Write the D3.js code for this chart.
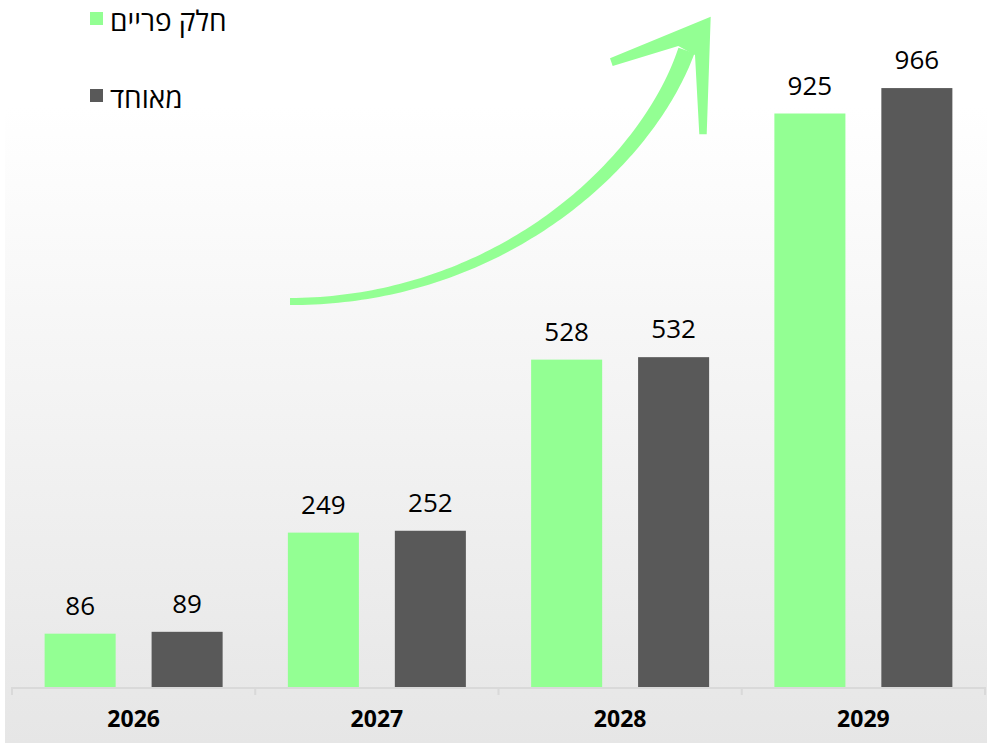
<!DOCTYPE html>
<html>
<head>
<meta charset="utf-8">
<script src="https://cdn.jsdelivr.net/npm/d3@7"></script>
<style>
  html, body { margin: 0; padding: 0; background: #ffffff; }
  svg { display: block; }
</style>
</head>
<body>
<svg id="chart" width="987" height="743"></svg>
<script>
// ---- data ----
const years = ["2026", "2027", "2028", "2029"];
const seriesNames = ["חלק פריים", "מאוחד"];
const primeValues = [86, 249, 528, 925];
const mergedValues = [89, 252, 532, 966];
const seriesColors = ["#93ff93", "#595959"];

const svg = d3.select("#chart");
const W = 987, H = 743;

// background gradient panel
const defs = svg.append("defs");
const grad = defs.append("linearGradient").attr("id", "bg").attr("x1", 0).attr("y1", 0).attr("x2", 0).attr("y2", 1);
grad.append("stop").attr("offset", "0%").attr("stop-color", "#ffffff");
grad.append("stop").attr("offset", "100%").attr("stop-color", "#e6e6e6");
svg.append("rect").attr("x", 5).attr("y", 107).attr("width", W - 5).attr("height", H - 107).attr("fill", "url(#bg)");

// scales
const x = d3.scaleBand().domain(years).range([12, 985]).paddingInner(0).paddingOuter(0);
const xs = d3.scaleBand().domain(seriesNames).range([0, x.bandwidth()]).paddingInner(0.336).paddingOuter(0.305);
const y = d3.scaleLinear().domain([0, 1000]).range([687, 67]);

const rows = years.map((yr, i) => ({ year: yr, vals: [primeValues[i], mergedValues[i]] }));

const groups = svg.append("g").selectAll("g").data(rows).join("g")
  .attr("transform", d => `translate(${x(d.year)},0)`);

groups.selectAll("rect").data(d => d.vals.map((v, j) => ({ name: seriesNames[j], v, j })))
  .join("rect")
  .attr("x", d => xs(d.name))
  .attr("y", d => y(d.v))
  .attr("width", xs.bandwidth())
  .attr("height", d => y(0) - y(d.v))
  .attr("fill", d => seriesColors[d.j]);

groups.selectAll("text.val").data(d => d.vals.map((v, j) => ({ name: seriesNames[j], v, j })))
  .join("text")
  .attr("class", "val")
  .attr("x", d => xs(d.name) + xs.bandwidth() / 2)
  .attr("y", d => y(d.v) - 19)
  .attr("text-anchor", "middle")
  .attr("font-family", "'Open Sans', 'Noto Sans', sans-serif")
  .attr("font-size", 26)
  .attr("fill", "#000")
  .text(d => d.v);

// x axis
const axis = d3.axisBottom(x).tickSize(0).tickPadding(0);
const ag = svg.append("g").attr("transform", `translate(0,${y(0)})`);
ag.append("line").attr("x1", 12).attr("x2", 985).attr("y1", 1).attr("y2", 1)
  .attr("stroke", "#d9d9d9").attr("stroke-width", 2);
const tickXs = years.map(yr => x(yr)).concat([x.range()[1]]);
ag.selectAll("line.tk").data(tickXs).join("line").attr("class", "tk")
  .attr("x1", d => d).attr("x2", d => d).attr("y1", 0).attr("y2", 8)
  .attr("stroke", "#d9d9d9").attr("stroke-width", 2);
const axG = ag.append("g").call(axis);
axG.select(".domain").remove();
axG.selectAll("text")
  .attr("y", 40)
  .attr("dy", 0)
  .attr("font-family", "'Open Sans', 'Noto Sans', sans-serif")
  .attr("font-size", 23)
  .attr("font-weight", "bold")
  .attr("fill", "#000");

// legend
const legend = svg.append("g");
seriesNames.forEach((name, i) => {
  const ly = [12, 89][i];
  legend.append("rect").attr("x", 90).attr("y", ly).attr("width", 13).attr("height", 13).attr("fill", seriesColors[i]);
  legend.append("text").attr("x", 110).attr("y", ly + 19)
    .attr("font-family", "'Open Sans', 'DejaVu Sans', sans-serif")
    .attr("font-size", 28).attr("fill", "#000")
    .text(name);
});

// decorative growth arrow (cubic bezier shaft with tapering width)
const P = [[290, 301.5], [495, 301.5], [645, 168], [686.5, 50.5]];
function bez(t) {
  const u = 1 - t;
  const a = u * u * u, b = 3 * u * u * t, c = 3 * u * t * t, d = t * t * t;
  return [a * P[0][0] + b * P[1][0] + c * P[2][0] + d * P[3][0],
          a * P[0][1] + b * P[1][1] + c * P[2][1] + d * P[3][1]];
}
function dbez(t) {
  const u = 1 - t;
  const k0 = 3 * u * u, k1 = 6 * u * t, k2 = 3 * t * t;
  return [k0 * (P[1][0] - P[0][0]) + k1 * (P[2][0] - P[1][0]) + k2 * (P[3][0] - P[2][0]),
          k0 * (P[1][1] - P[0][1]) + k1 * (P[2][1] - P[1][1]) + k2 * (P[3][1] - P[2][1])];
}
const N = 100;
const upper = [], lower = [];
for (let i = 0; i <= N; i++) {
  const t = i / N;
  const p = bez(t);
  let [dx, dy] = dbez(t);
  const len = Math.hypot(dx, dy) || 1;
  dx /= len; dy /= len;
  const nx = dy, ny = -dx;
  const w = 7 + 10 * Math.pow(t, 1.2);
  upper.push([p[0] + nx * w / 2, p[1] + ny * w / 2]);
  lower.push([p[0] - nx * w / 2, p[1] - ny * w / 2]);
}
const shaft = upper.concat(lower.reverse());
svg.append("path").attr("d", "M" + shaft.map(p => p.join(",")).join("L") + "Z").attr("fill", "#93ff93");
const head = [[710.7, 16.7], [610, 58.3], [612.7, 66], [678.3, 46], [686.5, 50.5], [695, 55], [699.3, 134.3], [706.7, 134.3]];
svg.append("path").attr("d", "M" + head.map(p => p.join(",")).join("L") + "Z").attr("fill", "#93ff93");
</script>
</body>
</html>
